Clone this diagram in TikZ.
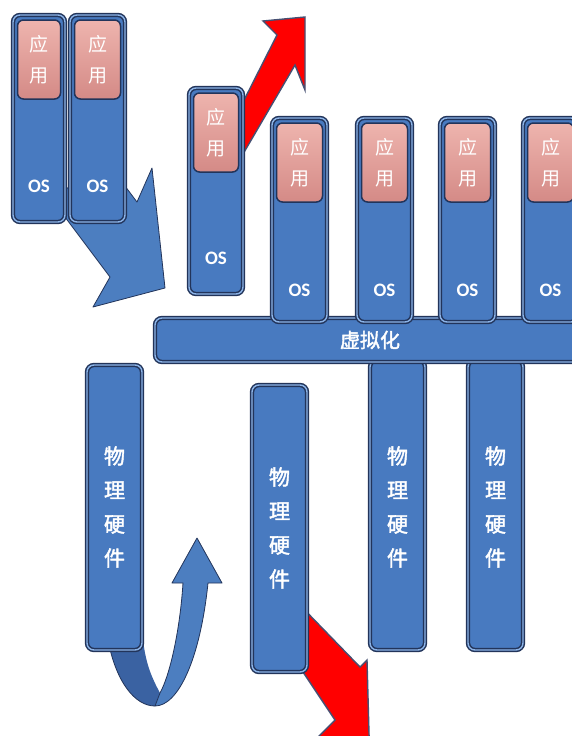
\documentclass[tikz,border=0pt]{standalone}
\usepackage{fontspec}
\setmainfont{Carlito}
\newfontfamily\cjk{Noto Sans CJK SC}
\newfontfamily\cjkb[FakeBold=2]{Noto Sans CJK SC}
\definecolor{bluec}{RGB}{72,122,192}
\definecolor{edgec}{RGB}{34,52,90}
\definecolor{hilc}{RGB}{140,180,232}
\definecolor{pinkl}{RGB}{238,180,174}
\definecolor{pinkd}{RGB}{212,138,134}
\definecolor{redc}{RGB}{255,0,0}
\definecolor{redline}{RGB}{70,80,115}
\definecolor{arrowc}{RGB}{76,126,192}
\definecolor{arrowd}{RGB}{58,98,162}
\begin{document}
\begin{tikzpicture}[x=1pt,y=-1pt,
  colbox/.style={draw=edgec, line width=1.5pt, double=hilc, double distance=1.4pt,
    fill=bluec, rounded corners=7pt, inner sep=0pt},
  appbox/.style={draw=edgec, line width=1.5pt, top color=pinkl, bottom color=pinkd,
    rounded corners=6pt, inner sep=0pt, align=center, text=white,
    font=\cjk\fontsize{19}{31}\selectfont},
  ostext/.style={text=white, font=\bfseries\fontsize{19}{19}\selectfont},
  hwtext/.style={text=white, align=center, font=\cjkb\fontsize{21}{34}\selectfont},
  bartext/.style={text=white, font=\cjkb\fontsize{20}{20}\selectfont},
  bigarrow/.style={fill=arrowc, draw=edgec, line width=0.8pt, line join=round},
  redarrow/.style={fill=redc, draw=redline, line width=1.4pt, line join=miter},
]
\useasboundingbox (0,0) rectangle (572,736);
\fill[white] (0,0) rectangle (572,736);

% big blue arrow (behind first two columns)
\draw[bigarrow] (50,197) -- (110,277) -- (93,307) -- (165,288) -- (152,168) -- (137,202) -- (110,166) -- cycle;

% first two stacks
\node[colbox, minimum width=52, minimum height=207] (c1) at (39,118.5) {};
\node[appbox, minimum width=43, minimum height=79, anchor=north] (a1) at ([yshift=-5pt]c1.north) {应\\用};
\node[ostext] (o1) at ([yshift=36pt]c1.south) {OS};
\node[colbox, minimum width=55, minimum height=207] (c2) at (97.5,118.5) {};
\node[appbox, minimum width=46, minimum height=79, anchor=north] (a2) at ([yshift=-5pt]c2.north) {应\\用};
\node[ostext] (o2) at ([yshift=36pt]c2.south) {OS};

% red arrow top (behind third stack)
\draw[redarrow] (236,116) -- (277,35) -- (263,21) -- (305,17) -- (305,90) -- (295,65) -- (236,166) -- cycle;

% third stack (lifted)
\node[colbox, minimum width=54, minimum height=206] (c3) at (216,191) {};
\node[appbox, minimum width=45, minimum height=79, anchor=north] (a3) at ([yshift=-5pt]c3.north) {应\\用};
\node[ostext] (o3) at ([yshift=36pt]c3.south) {OS};

% hardware under bar
\node[colbox, minimum width=55, minimum height=290] (h3) at (397.5,505) {};
\node[hwtext] (t3) at (397.5,507) {物\\理\\硬\\件};
\node[colbox, minimum width=55, minimum height=290] (h4) at (495.5,505) {};
\node[hwtext] (t4) at (495.5,507) {物\\理\\硬\\件};

% virtualisation bar
\node[colbox, minimum width=445, minimum height=44] (bar) at (377.5,340) {};
\node[bartext] (bt) at (370,340) {虚拟化};

% four stacks on the bar
\foreach \i/\cx in {4/299.5,5/384.5,6/467.5,7/550.5}{
  \node[colbox, minimum width=55, minimum height=204] (c\i) at (\cx,220) {};
  \node[appbox, minimum width=46, minimum height=79, anchor=north] (a\i) at ([yshift=-5pt]c\i.north) {应\\用};
  \node[ostext] (o\i) at ([yshift=32pt]c\i.south) {OS};
}

% U-turn arrow (behind first hardware)
\fill[arrowd] (108,640) .. controls (116,682) and (135,706) .. (155,706) -- (160,693)
   .. controls (152,678) and (146,665) .. (143,640) -- cycle;
\draw[bigarrow] (155,706) .. controls (178,706) and (200,660) .. (208,583) -- (222,583) -- (197,538)
   -- (172,583) -- (183,583) .. controls (180,630) and (170,675) .. (160,693) -- cycle;
\draw[edgec, line width=0.8pt] (108,640) .. controls (116,682) and (135,706) .. (155,706);

\node[colbox, minimum width=55, minimum height=285] (h1) at (114.5,507.5) {};
\node[hwtext] (t1) at (114.5,507) {物\\理\\硬\\件};

% red arrow bottom (behind second hardware)
\draw[redarrow] (295,600) -- (360,667) -- (367,660) -- (370,770) -- (318,737) -- (335,720) -- (295,660) -- cycle;

\node[colbox, minimum width=55, minimum height=287] (h2) at (279.5,528.5) {};
\node[hwtext] (t2) at (279.5,528) {物\\理\\硬\\件};
\end{tikzpicture}
\end{document}
